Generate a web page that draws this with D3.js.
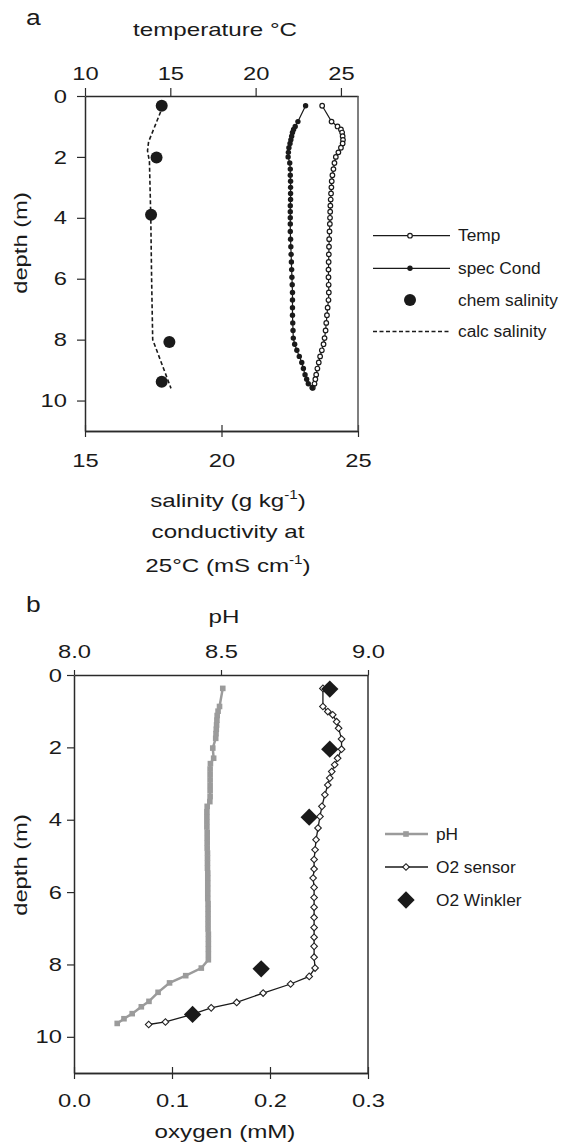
<!DOCTYPE html>
<html><head><meta charset="utf-8">
<script src="https://cdn.jsdelivr.net/npm/d3@7"></script>
<style>
html,body{margin:0;padding:0;background:#fff;}
svg{display:block;font-family:"Liberation Sans",Arial,Helvetica,sans-serif;}
</style></head>
<body>
<script>
// ---------- Panel a data ----------
const depthA = [0.32,0.84,1.0,1.1,1.2,1.32,1.44,1.56,1.7,1.85,2.0,2.2,2.4,2.6,2.8,3.0,3.2,3.4,3.6,3.8,4.0,4.2,4.45,4.7,4.95,5.2,5.45,5.7,5.95,6.2,6.45,6.7,6.95,7.2,7.45,7.7,7.95,8.15,8.35,8.55,8.75,8.95,9.15,9.3,9.45,9.58];
const tempA = [23.9,24.45,24.8,25.0,25.07,25.1,25.12,25.1,25.0,24.85,24.7,24.62,24.56,24.5,24.46,24.44,24.42,24.4,24.38,24.37,24.36,24.35,24.33,24.31,24.3,24.29,24.28,24.27,24.27,24.28,24.29,24.27,24.22,24.18,24.14,24.1,24.04,23.98,23.88,23.78,23.7,23.62,23.55,23.5,23.45,23.35];
const condA = [23.08,22.8,22.7,22.64,22.6,22.57,22.54,22.51,22.47,22.45,22.44,22.5,22.52,22.52,22.53,22.53,22.53,22.53,22.52,22.52,22.52,22.52,22.52,22.53,22.54,22.55,22.56,22.57,22.58,22.59,22.6,22.6,22.6,22.6,22.61,22.62,22.63,22.68,22.76,22.85,22.94,23.0,23.06,23.12,23.18,23.32];
const chemDepth = [0.32,2.02,3.9,8.08,9.38];
const chemSal = [17.81,17.62,17.42,18.09,17.81];
const calcDepth = [0.32,0.9,1.5,1.8,2.15,4,6,8.0,9.6];
const calcSal = [17.86,17.6,17.33,17.29,17.36,17.41,17.44,17.48,18.15];
const tempTicks = [10,15,20,25];
const salTicks = [15,20,25];
const depthTicks = [0,2,4,6,8,10];
const legendA = ["Temp","spec Cond","chem salinity","calc salinity"];

// ---------- Panel b data ----------
const pHDepth = [0.37,0.87,1.0,1.12,1.25,1.38,1.5,1.62,1.75,2.02,2.3,2.45,2.6,2.75,2.9,3.05,3.2,3.36,3.5,3.63,3.78,3.92,4.06,4.2,4.35,4.5,4.64,4.78,4.92,5.06,5.2,5.34,5.48,5.62,5.76,5.9,6.04,6.18,6.32,6.46,6.6,6.74,6.88,7.02,7.16,7.3,7.44,7.58,7.72,7.87,8.1,8.31,8.51,8.77,9.02,9.17,9.36,9.5,9.63];
const pHVal = [8.506,8.495,8.49,8.487,8.486,8.485,8.484,8.483,8.482,8.472,8.475,8.464,8.463,8.463,8.463,8.463,8.463,8.463,8.462,8.453,8.452,8.452,8.452,8.452,8.453,8.453,8.453,8.453,8.454,8.454,8.454,8.454,8.455,8.455,8.455,8.455,8.455,8.455,8.456,8.456,8.456,8.456,8.456,8.456,8.457,8.457,8.457,8.457,8.457,8.457,8.433,8.38,8.325,8.286,8.255,8.229,8.198,8.17,8.147];
const o2Depth = [0.37,0.87,1.01,1.1,1.29,1.47,1.77,2.05,2.3,2.48,2.67,2.85,3.04,3.31,3.63,3.91,4.23,4.55,4.83,5.1,5.36,5.61,5.87,6.15,6.42,6.7,6.98,7.25,7.5,7.8,8.1,8.33,8.54,8.79,9.05,9.2,9.4,9.59,9.66];
const o2Val = [0.254,0.254,0.259,0.264,0.268,0.270,0.273,0.273,0.269,0.266,0.263,0.261,0.259,0.256,0.253,0.251,0.249,0.247,0.246,0.245,0.245,0.244,0.245,0.245,0.245,0.245,0.245,0.245,0.245,0.245,0.246,0.240,0.221,0.193,0.166,0.140,0.118,0.0933,0.0762];
const winkDepth = [0.39,2.05,3.93,8.12,9.38];
const winkVal = [0.261,0.261,0.240,0.191,0.121];
const pHTicks = [8.0,8.5,9.0];
const o2Ticks = [0.0,0.1,0.2,0.3];
const legendB = ["pH","O2 sensor","O2 Winkler"];

// ---------- drawing ----------
const W = 568, H = 1148;
const INK = "#1a1a1a", GRAY = "#9b9b9b";
const svg = d3.select("body").append("svg").attr("width", W).attr("height", H);

function stretch(sel, f){ sel.attr("data-sx", f); }

function label(x, y, str, size, f, anchor, rot){
  const t = svg.append("text")
    .attr("transform", `translate(${x},${y})` + (rot ? ` rotate(${rot})` : ""))
    .attr("font-size", size).attr("fill", INK)
    .attr("text-anchor", anchor || "middle").text(str);
  stretch(t, f);
  return t;
}
function styleAxis(g, size, f){
  g.select(".domain").attr("stroke", "#2a2a2a").attr("stroke-width", 1.5);
  g.selectAll(".tick line").attr("stroke", "#2a2a2a").attr("stroke-width", 1.2);
  g.selectAll(".tick text").attr("font-size", size).attr("fill", INK)
    .attr("font-family", '"Liberation Sans",Arial,sans-serif').attr("data-sx", f);
}

// Panel a scales
const xSal = d3.scaleLinear().domain([15,25]).range([85,358]);
const xTemp = d3.scaleLinear().domain([10,26]).range([85,358]);
const yA = d3.scaleLinear().domain([0,11]).range([96,431]);

const TS = 19, TF = 1.25;

// axes a
styleAxis(svg.append("g").attr("transform","translate(0,96)")
  .call(d3.axisTop(xTemp).tickValues(tempTicks).tickSize(8).tickSizeOuter(0).tickPadding(8).tickFormat(d3.format("d"))), TS, TF);
styleAxis(svg.append("g").attr("transform","translate(85,0)")
  .call(d3.axisLeft(yA).tickValues(depthTicks).tickSize(8).tickSizeOuter(0).tickPadding(10).tickFormat(d3.format("d"))), TS, TF);
styleAxis(svg.append("g").attr("transform","translate(0,431)")
  .call(d3.axisBottom(xSal).tickValues(salTicks).tickSize(6).tickSizeOuter(0).tickPadding(16.5).tickFormat(d3.format("d"))), TS, TF);
styleAxis(svg.append("g").attr("transform","translate(0,431)")
  .call(d3.axisTop(xSal).tickValues(salTicks).tickSize(6).tickSizeOuter(0).tickFormat("")), TS, TF);
svg.append("line").attr("x1", xSal.range()[1]).attr("x2", xSal.range()[1])
  .attr("y1", yA.range()[0]).attr("y2", yA.range()[1]).attr("stroke", "#555").attr("stroke-width", 1.5);

// series a
const gA = svg.append("g");
const lineTemp = d3.line().x(d => xTemp(d[1])).y(d => yA(d[0]));
const lineSal = d3.line().x(d => xSal(d[1])).y(d => yA(d[0]));
const tempPts = d3.zip(depthA, tempA), condPts = d3.zip(depthA, condA);
gA.append("path").datum(d3.zip(calcDepth, calcSal)).attr("d", lineSal)
  .attr("fill","none").attr("stroke", INK).attr("stroke-width", 1.6).attr("stroke-dasharray","4,2.5");
gA.append("path").datum(tempPts).attr("d", lineTemp).attr("fill","none").attr("stroke", INK).attr("stroke-width", 1.2);
gA.append("path").datum(condPts).attr("d", lineSal).attr("fill","none").attr("stroke", INK).attr("stroke-width", 1.2);
gA.selectAll(".tp").data(tempPts).join("circle").attr("cx", d => xTemp(d[1])).attr("cy", d => yA(d[0]))
  .attr("r", 2.3).attr("fill","#fff").attr("stroke", INK).attr("stroke-width", 1.2);
gA.selectAll(".cp").data(condPts).join("circle").attr("cx", d => xSal(d[1])).attr("cy", d => yA(d[0]))
  .attr("r", 2.7).attr("fill", INK);
gA.selectAll(".ch").data(d3.zip(chemDepth, chemSal)).join("circle").attr("cx", d => xSal(d[1])).attr("cy", d => yA(d[0]))
  .attr("r", 6).attr("fill", INK);

// titles a
label(26, 25, "a", 22, 1.2, "start");
label(215, 36, "temperature °C", TS, 1.27);
label(27, 243, "depth (m)", TS, 1.25, "middle", -90);
{
  const t1 = svg.append("text").attr("transform","translate(228,507)").attr("font-size", TS).attr("fill", INK).attr("text-anchor","middle");
  t1.append("tspan").text("salinity (g kg");
  t1.append("tspan").attr("font-size", 12).attr("dy", -8).text("-1");
  t1.append("tspan").attr("dy", 8).text(")");
  stretch(t1, 1.27);
  label(228, 538, "conductivity at", TS, 1.27);
  const t3 = svg.append("text").attr("transform","translate(228,572)").attr("font-size", TS).attr("fill", INK).attr("text-anchor","middle");
  t3.append("tspan").text("25°C (mS cm");
  t3.append("tspan").attr("font-size", 12).attr("dy", -8).text("-1");
  t3.append("tspan").attr("dy", 8).text(")");
  stretch(t3, 1.27);
}

// legend a
const legAy = [235.7, 268.3, 300, 331.5];
const lgA = svg.append("g");
legendA.forEach((name, i) => {
  const y = legAy[i];
  if (i === 0 || i === 1) lgA.append("line").attr("x1",373).attr("x2",450).attr("y1",y).attr("y2",y).attr("stroke",INK).attr("stroke-width",1.2);
  if (i === 3) lgA.append("line").attr("x1",373).attr("x2",450).attr("y1",y).attr("y2",y).attr("stroke",INK).attr("stroke-width",1.6).attr("stroke-dasharray","4,2.5");
  if (i === 0) lgA.append("circle").attr("cx",410).attr("cy",y).attr("r",2.3).attr("fill","#fff").attr("stroke",INK).attr("stroke-width",1.2);
  if (i === 1) lgA.append("circle").attr("cx",410).attr("cy",y).attr("r",2.7).attr("fill",INK);
  if (i === 2) lgA.append("circle").attr("cx",410).attr("cy",y).attr("r",6).attr("fill",INK);
  const t = lgA.append("text").attr("x",458).attr("y",y).attr("dy","0.35em").attr("font-size",16).attr("fill",INK).text(name);
  stretch(t, 1.08);
});

// Panel b scales
const xPH = d3.scaleLinear().domain([8,9]).range([74,368]);
const xO2 = d3.scaleLinear().domain([0,0.3]).range([74,368]);
const yB = d3.scaleLinear().domain([0,11]).range([675,1073]);

styleAxis(svg.append("g").attr("transform","translate(0,675)")
  .call(d3.axisTop(xPH).tickValues(pHTicks).tickSize(5).tickSizeOuter(0).tickPadding(12).tickFormat(d3.format(".1f"))), TS, TF);
styleAxis(svg.append("g").attr("transform","translate(74,0)")
  .call(d3.axisLeft(yB).tickValues(depthTicks).tickSize(7).tickSizeOuter(0).tickPadding(5).tickFormat(d3.format("d"))), TS, TF);
styleAxis(svg.append("g").attr("transform","translate(0,1073)")
  .call(d3.axisBottom(xO2).tickValues(o2Ticks).tickSize(6).tickSizeOuter(0).tickPadding(14.5).tickFormat(d3.format(".1f"))), TS, TF);
styleAxis(svg.append("g").attr("transform","translate(0,1073)")
  .call(d3.axisTop(xO2).tickValues(o2Ticks).tickSize(6).tickSizeOuter(0).tickFormat("")), TS, TF);
svg.append("line").attr("x1", xO2.range()[1]).attr("x2", xO2.range()[1])
  .attr("y1", yB.range()[0]).attr("y2", yB.range()[1]).attr("stroke", "#333").attr("stroke-width", 1.5);

const gB = svg.append("g");
const pHPts = d3.zip(pHDepth, pHVal), o2Pts = d3.zip(o2Depth, o2Val), wkPts = d3.zip(winkDepth, winkVal);
gB.append("path").datum(pHPts).attr("d", d3.line().x(d => xPH(d[1])).y(d => yB(d[0])))
  .attr("fill","none").attr("stroke", GRAY).attr("stroke-width", 2.5);
gB.selectAll(".ph").data(pHPts).join("rect").attr("x", d => xPH(d[1]) - 2.8).attr("y", d => yB(d[0]) - 2.8)
  .attr("width", 5.6).attr("height", 5.6).attr("fill", GRAY);
gB.append("path").datum(o2Pts).attr("d", d3.line().x(d => xO2(d[1])).y(d => yB(d[0])))
  .attr("fill","none").attr("stroke", INK).attr("stroke-width", 1.3);
const smallDia = d3.symbol(d3.symbolSquare, 22)();
const bigDia = d3.symbol(d3.symbolSquare, 150)();
gB.selectAll(".o2").data(o2Pts).join("path").attr("d", smallDia)
  .attr("transform", d => `translate(${xO2(d[1])},${yB(d[0])}) rotate(45)`)
  .attr("fill","#fff").attr("stroke", "#222").attr("stroke-width", 1.1);
gB.selectAll(".wk").data(wkPts).join("path").attr("d", bigDia)
  .attr("transform", d => `translate(${xO2(d[1])},${yB(d[0])}) rotate(45)`)
  .attr("fill", INK);

label(26, 612, "b", 22, 1.2, "start");
label(224, 623, "pH", TS, 1.27);
label(27, 865, "depth (m)", TS, 1.25, "middle", -90);
label(225, 1138, "oxygen (mM)", TS, 1.27);

// legend b
const legBy = [834, 867, 900];
const lgB = svg.append("g");
legendB.forEach((name, i) => {
  const y = legBy[i];
  if (i === 0) {
    lgB.append("line").attr("x1",385).attr("x2",428).attr("y1",y).attr("y2",y).attr("stroke",GRAY).attr("stroke-width",2.5);
    lgB.append("rect").attr("x",406-2.8).attr("y",y-2.8).attr("width",5.6).attr("height",5.6).attr("fill",GRAY);
  }
  if (i === 1) {
    lgB.append("line").attr("x1",385).attr("x2",428).attr("y1",y).attr("y2",y).attr("stroke",INK).attr("stroke-width",1.3);
    lgB.append("path").attr("d", smallDia).attr("transform",`translate(406,${y}) rotate(45)`).attr("fill","#fff").attr("stroke","#222").attr("stroke-width",1.1);
  }
  if (i === 2) {
    lgB.append("path").attr("d", bigDia).attr("transform",`translate(406,${y}) rotate(45)`).attr("fill",INK);
  }
  const t = lgB.append("text").attr("x",436).attr("y",y).attr("dy","0.35em").attr("font-size",16).attr("fill",INK).text(name);
  stretch(t, 1.08);
});

// apply horizontal stretch to mimic the wide original typeface
svg.selectAll("text[data-sx]").each(function(){
  const f = +this.getAttribute("data-sx");
  const L = this.getComputedTextLength();
  this.setAttribute("textLength", (L * f).toFixed(1));
  this.setAttribute("lengthAdjust", "spacingAndGlyphs");
});
</script>
</body></html>
